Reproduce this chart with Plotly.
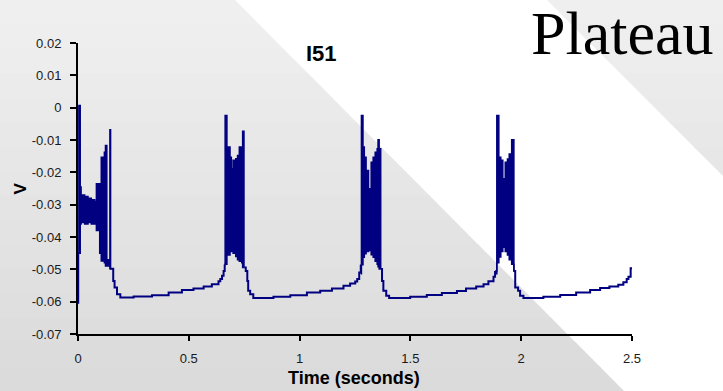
import plotly.graph_objects as go

# ---------------- data ----------------
x_ticks = [0, 0.5, 1, 1.5, 2, 2.5]
x_labels = ["0", "0.5", "1", "1.5", "2", "2.5"]
y_ticks = [0.02, 0.01, 0, -0.01, -0.02, -0.03, -0.04, -0.05, -0.06, -0.07]
y_labels = ["0.02", "0.01", "0", "-0.01", "-0.02", "-0.03", "-0.04", "-0.05", "-0.06", "-0.07"]

# inter-burst membrane potential (step trace), None separates segments
base_t = [0.000, 0.001, None,
          0.148, 0.153, 0.159, 0.165, 0.176, 0.191, 0.251, 0.334, 0.409, 0.469, 0.521, 0.567, 0.604, 0.634, 0.642, 0.650, 0.657, 0.662, None,
          0.750, 0.757, 0.764, 0.768, 0.777, 0.791, 0.882, 0.958, 1.033, 1.093, 1.146, 1.198, 1.228, 1.251, 1.260, 1.269, 1.276, None,
          1.366, 1.372, 1.378, 1.391, 1.404, 1.499, 1.574, 1.642, 1.710, 1.751, 1.797, 1.830, 1.852, 1.875, 1.882, None,
          1.968, 1.973, 1.986, 1.995, 2.010, 2.100, 2.176, 2.248, 2.311, 2.356, 2.398, 2.438, 2.461, 2.476, 2.484, 2.494, 2.500]
base_v = [-0.0603, -0.045, None,
          -0.0498, -0.0498, -0.0536, -0.0556, -0.0577, -0.0587, -0.0584, -0.0580, -0.0572, -0.0564, -0.0559, -0.0553, -0.0546, -0.0537, -0.0530, -0.0520, -0.0505, -0.0485, None,
          -0.0494, -0.0505, -0.0536, -0.0566, -0.0577, -0.0589, -0.0585, -0.0580, -0.0572, -0.0566, -0.0559, -0.0551, -0.0544, -0.0538, -0.0530, -0.0510, -0.0486, None,
          -0.0499, -0.0536, -0.0566, -0.0582, -0.0589, -0.0585, -0.0579, -0.0573, -0.0567, -0.0559, -0.0553, -0.0546, -0.0537, -0.0523, -0.0505, None,
          -0.0505, -0.0556, -0.0566, -0.0582, -0.0589, -0.0585, -0.0579, -0.0572, -0.0564, -0.0558, -0.0553, -0.0548, -0.0540, -0.0530, -0.0523, -0.0497, -0.0497]

# spike bursts: time, upper envelope (spike peaks), lower envelope (troughs)
b0_t  = [0.000, 0.004, 0.010, 0.014, 0.030, 0.045, 0.060, 0.075, 0.083, 0.098, 0.105, 0.119, 0.124, 0.130, 0.144, 0.147, 0.150]
b0_hi = [-0.045, 0.0007, -0.0245, -0.0270, -0.0275, -0.0280, -0.0285, -0.0290, -0.0235, -0.0235, -0.0153, -0.0138, -0.0117, -0.0470, -0.0068, -0.0498, -0.0498]
b0_lo = [-0.045, -0.045, -0.0360, -0.0355, -0.0360, -0.0355, -0.0360, -0.0360, -0.0380, -0.0450, -0.0474, -0.0480, -0.0490, -0.0490, -0.0498, -0.0498, -0.0498]

b1_t  = [0.662, 0.664, 0.672, 0.686, 0.692, 0.700, 0.712, 0.720, 0.728, 0.739, 0.743, 0.749]
b1_hi = [-0.0485, -0.0024, -0.0122, -0.0153, -0.0189, -0.0163, -0.0158, -0.0148, -0.0122, -0.0470, -0.0073, -0.0494]
b1_lo = [-0.0485, -0.0484, -0.0456, -0.0442, -0.0445, -0.0450, -0.0460, -0.0470, -0.0475, -0.0480, -0.0494, -0.0494]

b2_t  = [1.276, 1.279, 1.286, 1.292, 1.300, 1.311, 1.323, 1.332, 1.341, 1.350, 1.354, 1.359, 1.366]
b2_hi = [-0.0486, -0.0024, -0.0122, -0.0153, -0.0194, -0.0251, -0.0169, -0.0153, -0.0138, -0.0127, -0.0099, -0.0127, -0.0499]
b2_lo = [-0.0514, -0.0486, -0.0463, -0.0452, -0.0445, -0.0442, -0.0455, -0.0463, -0.0475, -0.0484, -0.0492, -0.0499, -0.0499]

b3_t  = [1.882, 1.890, 1.899, 1.908, 1.917, 1.928, 1.938, 1.946, 1.957, 1.967, 1.970]
b3_hi = [-0.0505, -0.0024, -0.0153, -0.0163, -0.0220, -0.0169, -0.0159, -0.0143, -0.0099, -0.0505, -0.0505]
b3_lo = [-0.0514, -0.0480, -0.0462, -0.0445, -0.0432, -0.0445, -0.0456, -0.0470, -0.0484, -0.0505, -0.0505]

# ---------------- layout geometry ----------------
W, H = 723, 391
L, R, T, B = 78, 91, 43, 57
pw, ph = W - L - R, H - T - B
NAVY = "#000080"


def px(x):
    return (x - L) / pw


def py(y):
    return (H - B - y) / ph


fig = go.Figure()

fig.add_trace(go.Scatter(x=base_t, y=base_v, mode="lines", connectgaps=False,
                         line=dict(color=NAVY, width=2, shape="hv"),
                         hoverinfo="skip", showlegend=False))
for bt, bhi, blo in [(b0_t, b0_hi, b0_lo), (b1_t, b1_hi, b1_lo), (b2_t, b2_hi, b2_lo), (b3_t, b3_hi, b3_lo)]:
    fig.add_trace(go.Scatter(x=bt, y=blo, mode="lines",
                             line=dict(color=NAVY, width=1.5, shape="hv"),
                             hoverinfo="skip", showlegend=False))
    fig.add_trace(go.Scatter(x=bt, y=bhi, mode="lines", fill="tonexty", fillcolor=NAVY,
                             line=dict(color=NAVY, width=1.5, shape="hv"),
                             hoverinfo="skip", showlegend=False))

# ---------------- background (slide design) ----------------
shapes = []
n = 16
step = H / n
for i in range(n):
    y0 = i * step
    y1 = min((i + 1) * step + 1, H + 1)
    g = int(round(240 - 22 * ((y0 + step / 2) / H)))
    col = f"rgb({g},{g},{g})"
    pts = [(-1, y0), (235 + 0.995 * y0, y0), (235 + 0.995 * y1, y1), (-1, y1)]
    path = "M " + " L ".join(f"{px(a):.5f},{py(b):.5f}" for a, b in pts) + " Z"
    shapes.append(dict(type="path", path=path, xref="paper", yref="paper",
                       fillcolor=col, line=dict(width=0), layer="below"))
    if y0 < W - 547:
        ye = min(y1, W - 547)
        pts = [(547 + y0, y0), (W + 1, y0), (W + 1, ye + 1), (547 + ye, ye)]
        path = "M " + " L ".join(f"{px(a):.5f},{py(b):.5f}" for a, b in pts) + " Z"
        shapes.append(dict(type="path", path=path, xref="paper", yref="paper",
                           fillcolor=col, line=dict(width=0), layer="below"))

FONT = "Arial, Liberation Sans, sans-serif"
annotations = [
    dict(text="Plateau", x=px(529), y=py(33), xref="paper", yref="paper",
         xanchor="left", yanchor="middle", showarrow=False,
         font=dict(family="Times New Roman, Liberation Serif, serif", size=62, color="black")),
    dict(text="<b>I51</b>", x=px(321), y=py(53), xref="paper", yref="paper",
         xanchor="center", yanchor="middle", showarrow=False,
         font=dict(family=FONT, size=22, color="black")),
    dict(text="<b>Time (seconds)</b>", x=px(354), y=py(378), xref="paper", yref="paper",
         xanchor="center", yanchor="middle", showarrow=False,
         font=dict(family=FONT, size=18, color="black")),
    dict(text="<b>V</b>", x=px(19.5), y=py(189), xref="paper", yref="paper",
         xanchor="center", yanchor="middle", showarrow=False, textangle=-90,
         font=dict(family=FONT, size=17, color="black")),
]

fig.update_layout(
    width=W, height=H,
    margin=dict(l=L, r=R, t=T, b=B, autoexpand=False),
    paper_bgcolor="white",
    plot_bgcolor="rgba(0,0,0,0)",
    shapes=shapes,
    annotations=annotations,
    showlegend=False,
    font=dict(family=FONT, size=13, color="#1a1a1a"),
)
fig.update_xaxes(range=[0, 2.5], tickvals=x_ticks, ticktext=x_labels,
                 showline=True, linecolor="black", linewidth=2, mirror=False,
                 ticks="outside", ticklen=5, tickwidth=2, tickcolor="black",
                 showgrid=False, zeroline=False, ticklabelstandoff=6,
                 tickfont=dict(family=FONT, size=13, color="#1a1a1a"))
fig.update_yaxes(range=[-0.07, 0.02], tickvals=y_ticks, ticktext=y_labels,
                 showline=True, linecolor="black", linewidth=2, mirror=False,
                 ticks="outside", ticklen=6, tickwidth=2, tickcolor="black",
                 showgrid=False, zeroline=False, ticklabelstandoff=6,
                 tickfont=dict(family=FONT, size=13, color="#1a1a1a"))

fig.write_html("out.html", config={"displayModeBar": False},
               post_script="document.body.style.margin='0';document.body.style.padding='0';")
